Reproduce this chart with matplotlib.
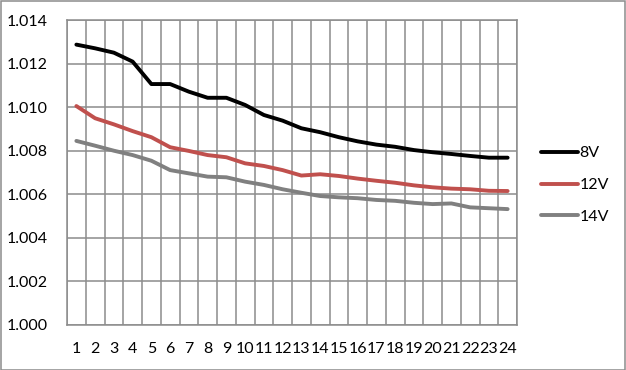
import numpy as np
import matplotlib
matplotlib.use('Agg')
import matplotlib.pyplot as plt
from matplotlib.patches import Rectangle

plt.rcParams['font.family'] = ['Lato', 'DejaVu Sans']

steps = list(range(1, 25))
v8 = [1.01287, 1.01270, 1.01250, 1.01209, 1.01106, 1.01106, 1.01071, 1.01043,
      1.01043, 1.01010, 1.00964, 1.00938, 1.00903, 1.00885, 1.00862, 1.00843,
      1.00828, 1.00818, 1.00803, 1.00793, 1.00785, 1.00776, 1.00768, 1.00768]
v12 = [1.01005, 1.00949, 1.00921, 1.00890, 1.00862, 1.00816, 1.00799, 1.00780,
       1.00770, 1.00742, 1.00730, 1.00711, 1.00686, 1.00692, 1.00684, 1.00672,
       1.00662, 1.00653, 1.00641, 1.00632, 1.00626, 1.00623, 1.00616, 1.00615]
v14 = [1.00845, 1.00823, 1.00800, 1.00780, 1.00754, 1.00711, 1.00696, 1.00681,
       1.00678, 1.00658, 1.00643, 1.00623, 1.00607, 1.00592, 1.00586, 1.00582,
       1.00574, 1.00570, 1.00561, 1.00555, 1.00558, 1.00540, 1.00536, 1.00532]
series = [('8V', v8, '#000000'), ('12V', v12, '#C0504D'), ('14V', v14, '#808080')]
yticks = [1.000, 1.002, 1.004, 1.006, 1.008, 1.010, 1.012, 1.014]

fig = plt.figure(figsize=(6.26, 3.70), dpi=100)
ax = fig.add_axes([67 / 626, 45 / 370, 450 / 626, 305 / 370])

grid_c = '#8C8C8C'
for name, vals, col in series:
    ax.plot(steps, vals, color=col, lw=2.8, label=name,
            solid_joinstyle='round', solid_capstyle='round', zorder=3)

ax.set_xlim(0.5, 24.5)
ax.set_ylim(1.000, 1.014)
ax.set_yticks(yticks)
ax.set_yticklabels(['%.3f' % t for t in yticks])
ax.set_xticks(steps)
ax.set_xticklabels([str(s) for s in steps])
ax.set_xticks(np.arange(0.5, 25, 1), minor=True)
ax.grid(axis='y', which='major', color=grid_c, lw=1.1)
ax.grid(axis='x', which='minor', color=grid_c, lw=1.1)
ax.tick_params(which='both', length=0)
ax.tick_params(axis='y', labelsize=11.5, pad=14)
ax.tick_params(axis='x', labelsize=11.5, pad=12)
for s in ax.spines.values():
    s.set_color(grid_c)
    s.set_linewidth(1.1)

leg = fig.legend(loc='center left', bbox_to_anchor=(541 / 626, 185 / 370),
                 frameon=False, fontsize=11.5, handlelength=2.3,
                 handletextpad=0.1, labelspacing=1.1, borderpad=0,
                 borderaxespad=0)

fig.patches.append(Rectangle((0.5 / 626, 0.5 / 370), 624.5 / 626, 368.5 / 370,
                             transform=fig.transFigure, fill=False,
                             edgecolor=grid_c, lw=1.1))

fig.savefig('out.png', dpi=100)
